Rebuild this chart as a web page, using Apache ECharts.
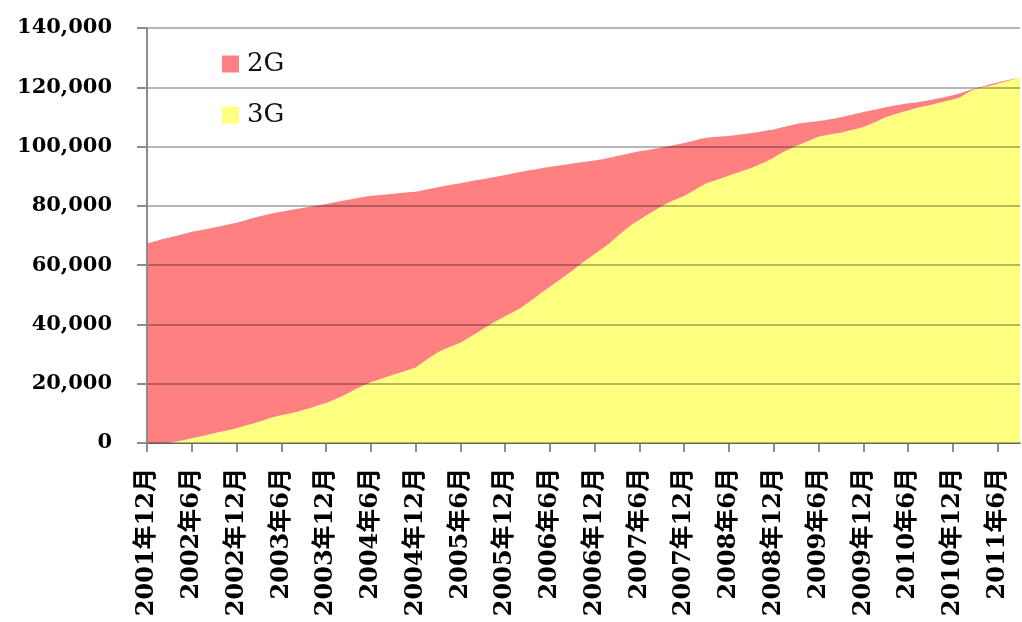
<!DOCTYPE html>
<html>
<head>
<meta charset="utf-8">
<script src="https://cdn.jsdelivr.net/npm/echarts@6/dist/echarts.min.js"></script>
<style>
html,body{margin:0;padding:0;background:#fff;}
#c{width:1022px;height:622px;}
</style>
</head>
<body>
<div id="c"></div>
<script>
// Months from 2001年12月 to 2011年9月
const startYear = 2001, startMonth = 12, monthCount = 118;
const categories = [];
for (let i = 0; i < monthCount; i++) {
  const m0 = startMonth - 1 + i;
  categories.push((startYear + Math.floor(m0 / 12)) + '年' + (m0 % 12 + 1) + '月');
}

// Total subscriptions (2G + 3G)
const totalSubs = [
  67400,68000,68700,69300,69900,70600,71300,71700,72200,72700,73200,73800,
  74300,75000,75700,76400,77000,77600,78000,78500,78900,79400,79800,80200,
  80600,81100,81600,82100,82600,83000,83400,83600,83800,84100,84300,84600,
  84800,85300,85800,86300,86800,87200,87600,88100,88600,89000,89500,89900,
  90400,90900,91400,91900,92300,92800,93200,93500,93900,94300,94600,95000,
  95300,95700,96200,96800,97300,97900,98400,98800,99300,99700,100200,100700,
  101200,101800,102500,103000,103200,103400,103600,103900,104200,104600,104900,105400,
  105800,106400,107000,107600,108000,108300,108600,109000,109400,109900,110500,111100,
  111700,112200,112700,113300,113800,114200,114600,114900,115300,115700,116200,116700,
  117300,118000,118800,119600,120300,121000,121600,122200,122800,123400
];

// 3G subscriptions
const g3Subs = [
  0,0,0,200,500,1000,1600,2100,2700,3300,3900,4400,
  5000,5700,6400,7200,8000,8800,9400,9900,10500,11200,11900,12700,
  13500,14500,15600,16900,18200,19400,20500,21300,22200,23000,23800,24600,
  25500,27200,29000,30600,31800,32800,33800,35300,36800,38400,40000,41400,
  42800,44100,45400,47200,49000,50900,52700,54500,56300,58100,60100,62000,
  63800,65500,67400,69700,71800,73700,75300,76900,78400,79900,81200,82300,
  83300,84800,86300,87600,88500,89300,90200,91100,91900,92800,93900,95000,
  96300,97800,99000,100200,101200,102300,103300,103800,104300,104700,105300,105900,
  106600,107600,108700,109900,110700,111500,112200,112900,113500,114000,114700,115300,
  115900,116600,118200,119400,120000,120500,121200,121900,122600,123300
];

// 2G = total - 3G (stacked on top of 3G)
const g2Subs = totalSubs.map((t, i) => t - g3Subs[i]);

const yTicks = [0, 20000, 40000, 60000, 80000, 100000, 120000, 140000];

const chart = echarts.init(document.getElementById('c'), null, {renderer: 'canvas'});
chart.setOption({
  animation: false,
  backgroundColor: '#ffffff',
  grid: {left: 147, right: 2, top: 28, bottom: 179, containLabel: false},
  legend: {
    orient: 'vertical',
    left: 222,
    top: 51,
    padding: 0,
    itemGap: 25,
    itemWidth: 17,
    itemHeight: 17,
    icon: 'rect',
    data: ['2G', '3G'],
    textStyle: {fontFamily: 'DejaVu Serif', fontSize: 26, lineHeight: 26, color: '#111', padding: [0, 0, 0, 3]}
  },
  xAxis: {
    type: 'category',
    boundaryGap: false,
    data: categories,
    axisLine: {show: true, lineStyle: {color: '#8c8c8c', width: 2}},
    axisTick: {show: true, interval: 5, length: 9, lineStyle: {color: '#8c8c8c', width: 2}},
    axisLabel: {
      interval: 5,
      rotate: 90,
      margin: 25,
      fontFamily: 'DejaVu Serif, Noto Sans CJK JP',
      fontWeight: 'bold',
      fontSize: 24,
      color: '#000'
    },
    splitLine: {show: false}
  },
  yAxis: {
    type: 'value',
    min: yTicks[0],
    max: yTicks[yTicks.length - 1],
    interval: 20000,
    z: 5,
    axisLine: {show: true, lineStyle: {color: '#8c8c8c', width: 2}},
    axisTick: {show: true, length: 10, lineStyle: {color: '#8c8c8c', width: 2}},
    axisLabel: {
      margin: 35,
      fontFamily: 'DejaVu Serif',
      fontWeight: 'bold',
      fontSize: 21,
      color: '#000',
      formatter: v => v.toLocaleString('en-US')
    },
    splitLine: {show: true, lineStyle: {color: 'rgba(0,0,0,0.38)', width: 1.5}}
  },
  series: [
    {
      name: '3G',
      type: 'line',
      stack: 'subs',
      data: g3Subs,
      showSymbol: false,
      symbol: 'none',
      lineStyle: {width: 0},
      itemStyle: {color: '#FFFF80'},
      areaStyle: {color: '#FFFF80', opacity: 1},
      z: 2
    },
    {
      name: '2G',
      type: 'line',
      stack: 'subs',
      data: g2Subs,
      showSymbol: false,
      symbol: 'none',
      lineStyle: {width: 0},
      itemStyle: {color: '#FF8080'},
      areaStyle: {color: '#FF8080', opacity: 1},
      z: 2
    }
  ]
});
</script>
</body>
</html>
